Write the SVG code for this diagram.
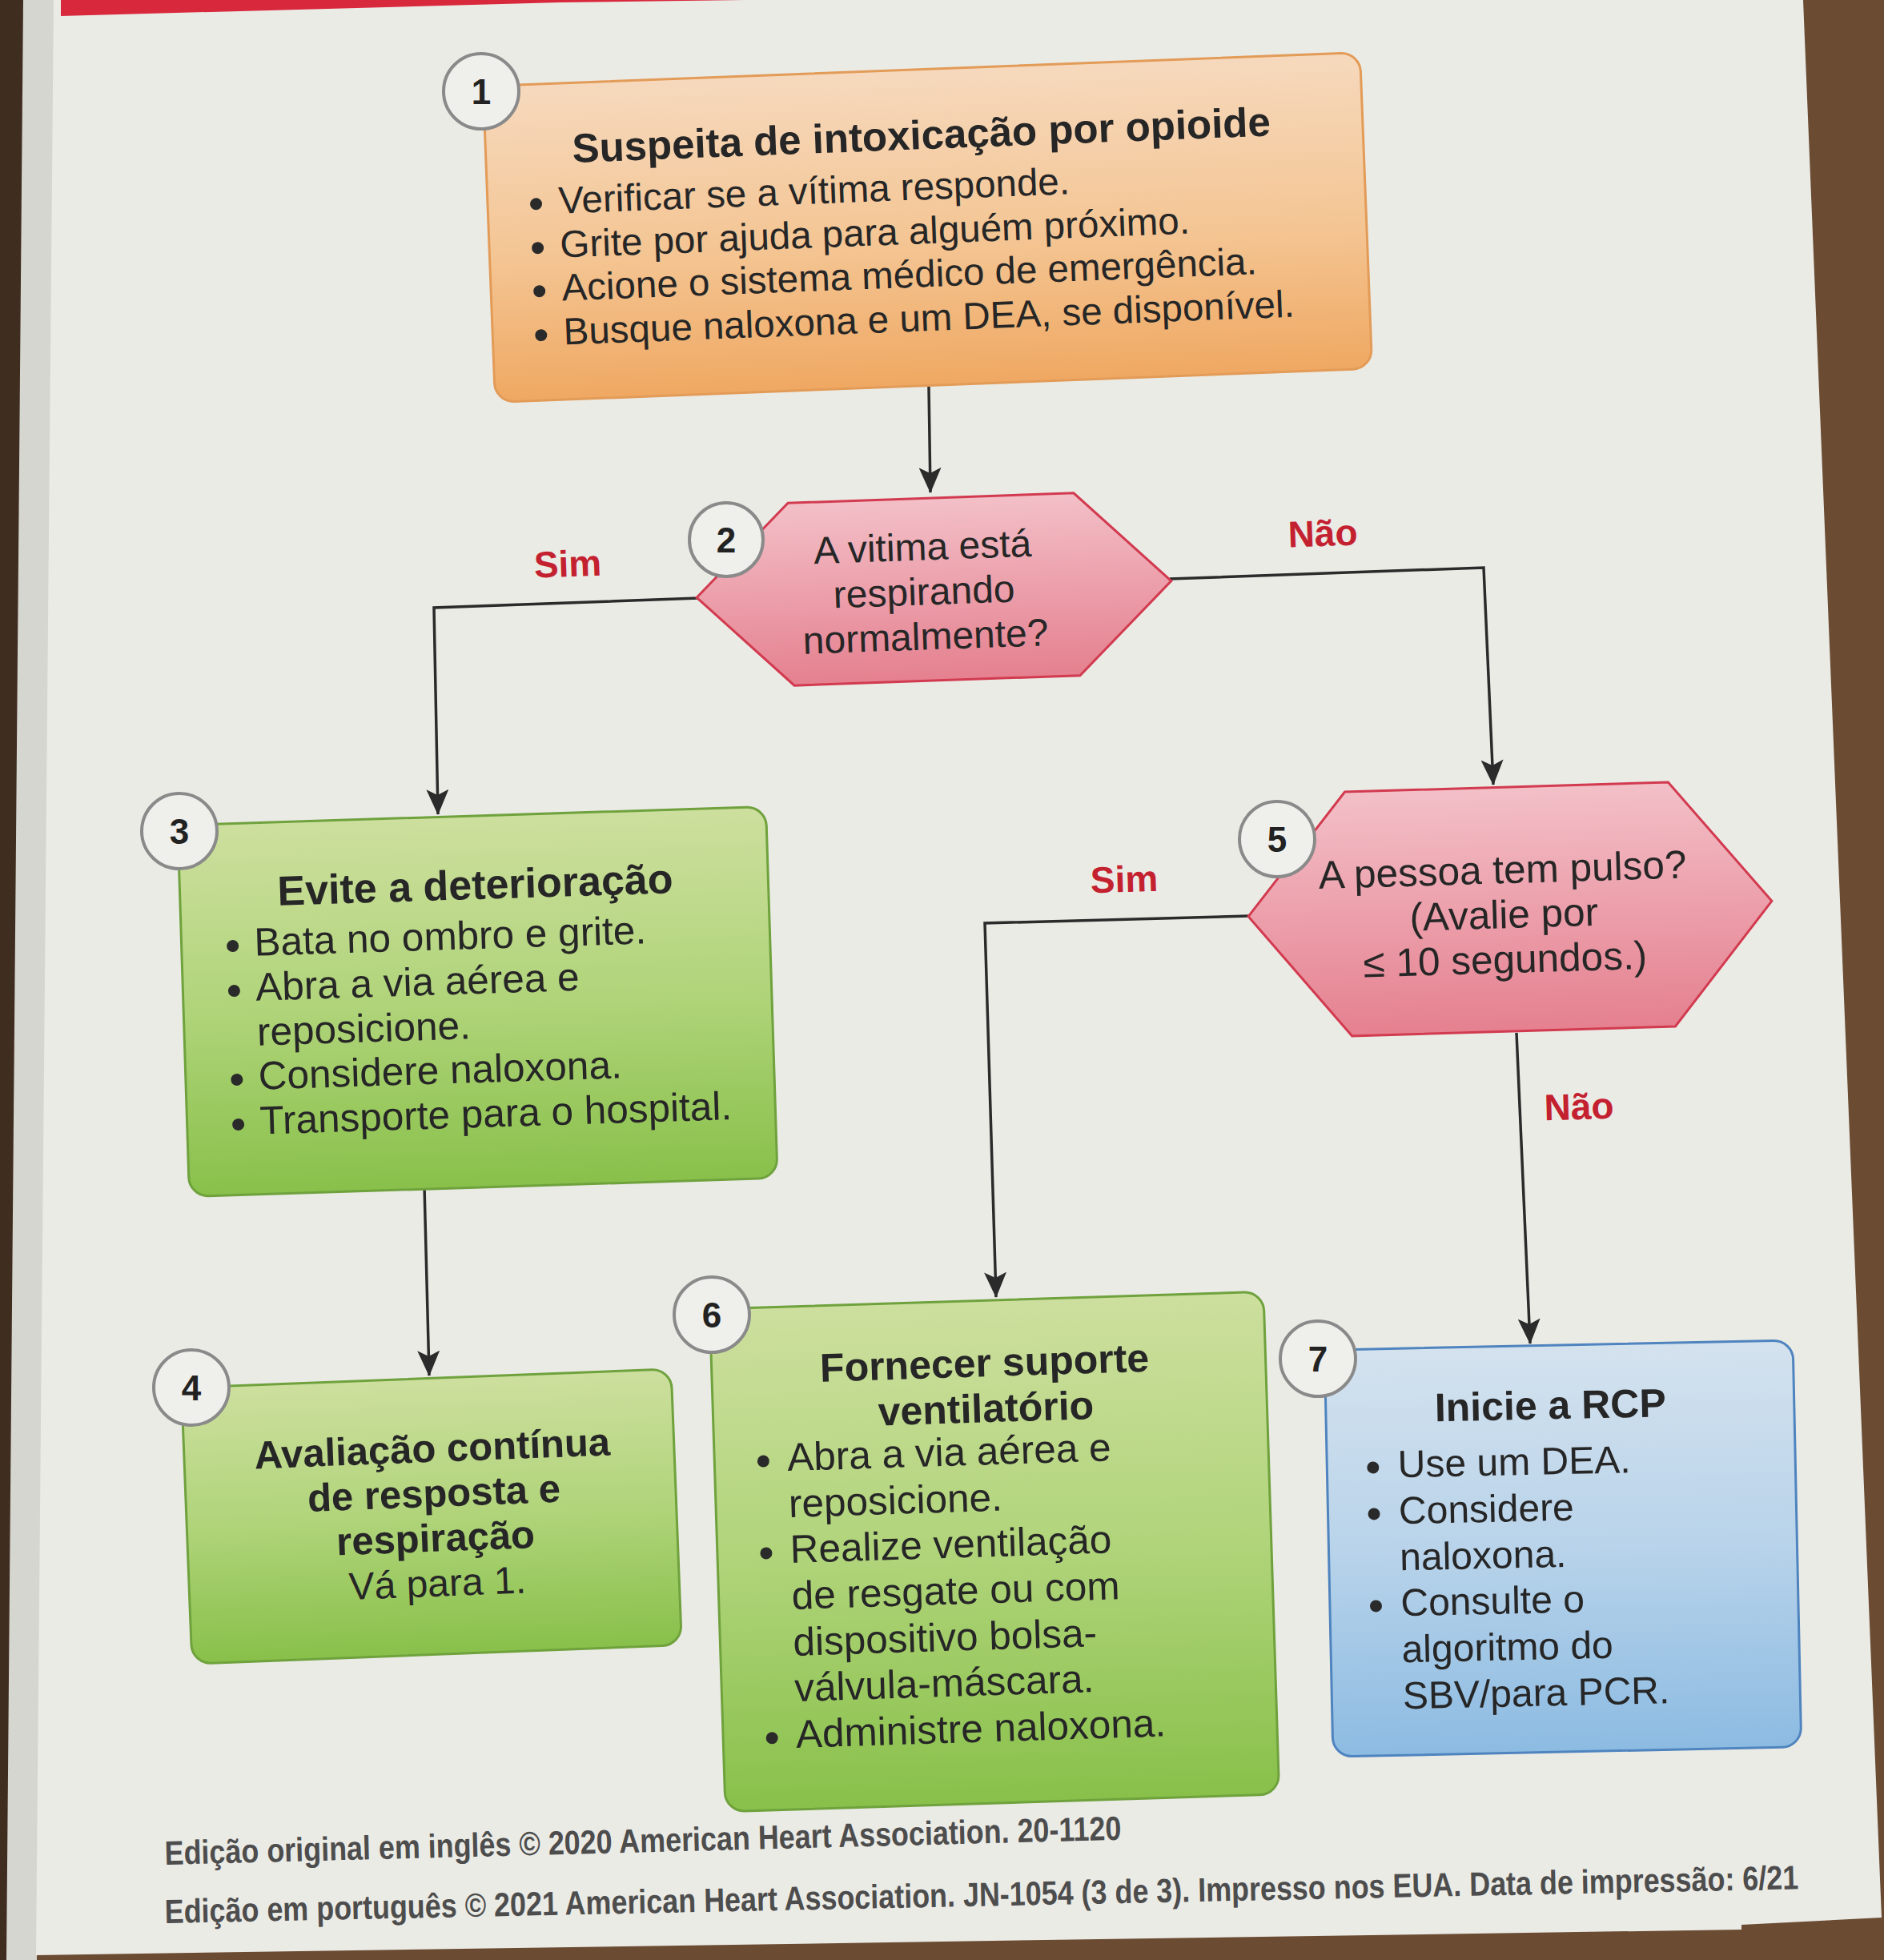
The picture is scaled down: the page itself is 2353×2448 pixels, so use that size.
<svg xmlns="http://www.w3.org/2000/svg" width="2353" height="2448" viewBox="0 0 2353 2448">
<defs>
<style>
.t{font-family:'Liberation Sans',Arial,Helvetica,sans-serif;fill:#262626}
.ttl{font-size:50px;font-weight:bold;text-anchor:middle}
.bul{font-size:48px}
.hx{font-size:48px;text-anchor:middle}
.reg{font-size:48px;text-anchor:middle}
.lbl{font-family:'Liberation Sans',Arial,sans-serif;font-size:46px;font-weight:bold;fill:#c42130;text-anchor:middle}
.num{font-family:'Liberation Sans',Arial,sans-serif;font-size:44px;font-weight:bold;fill:#222;text-anchor:middle}
.circ{fill:#efefeb;stroke:#8a8a8a;stroke-width:4}
.dot{fill:#2a2a2a}
.conn{fill:none;stroke:#2b2b2b;stroke-width:3.5;stroke-linejoin:miter}
.foot{font-family:'Liberation Sans',Arial,sans-serif;font-size:42px;font-weight:bold;fill:#4d4d4d}
</style>
<linearGradient id="gOr" x1="0" y1="0" x2="0" y2="1"><stop offset="0" stop-color="#f6d9bd"/><stop offset="0.55" stop-color="#f4c593"/><stop offset="1" stop-color="#efa862"/></linearGradient>
<linearGradient id="gGr" x1="0" y1="0" x2="0" y2="1"><stop offset="0" stop-color="#cddf9e"/><stop offset="0.5" stop-color="#b0d47a"/><stop offset="1" stop-color="#88c04a"/></linearGradient>
<linearGradient id="gBl" x1="0" y1="0" x2="0" y2="1"><stop offset="0" stop-color="#d4e2ee"/><stop offset="0.5" stop-color="#b8d3ea"/><stop offset="1" stop-color="#8cbbe2"/></linearGradient>
<linearGradient id="gPk" x1="0" y1="0" x2="0" y2="1"><stop offset="0" stop-color="#f3c0c8"/><stop offset="1" stop-color="#e5808f"/></linearGradient>
<marker id="arr" markerUnits="userSpaceOnUse" markerWidth="32" markerHeight="28" viewBox="0 0 32 28" refX="31" refY="14" orient="auto"><path d="M0,0 L32,14 L0,28 L7,14 z" fill="#2b2b2b"/></marker>
</defs>

<g id="background">
<rect x="0" y="0" width="2353" height="2448" fill="#6b4c33"/>
<rect x="0" y="0" width="30" height="2448" fill="#3f2d1f"/>
<polygon points="29,0 68,0 46,2448 8,2448" fill="#d6d6d1"/>
<polygon points="67,0 2252,0 2350,2395 2175,2404 2175,2410 45,2442" fill="#ebebe6"/>
<polygon points="76,0 930,0 700,3 76,20" fill="#d8283c"/>
</g>

<g id="connectors">
<path class="conn" d="M1160,483 L1162,615" marker-end="url(#arr)"/>
<path class="conn" d="M872,747 L542,759 L547,1017" marker-end="url(#arr)"/>
<path class="conn" d="M1461,723 L1853,709 L1865,980" marker-end="url(#arr)"/>
<path class="conn" d="M1560,1144 L1230,1153 L1244,1620" marker-end="url(#arr)"/>
<path class="conn" d="M1894,1290 L1911,1678" marker-end="url(#arr)"/>
<path class="conn" d="M530,1482 L536,1718" marker-end="url(#arr)"/>
</g>

<g id="labels">
<text class="lbl" x="709" y="720" transform="rotate(-2 709 704)">Sim</text>
<text class="lbl" x="1652" y="682" transform="rotate(-2 1652 666)">Não</text>
<text class="lbl" x="1404" y="1114" transform="rotate(-1.7 1404 1098)">Sim</text>
<text class="lbl" x="1972" y="1398" transform="rotate(-1.5 1972 1382)">Não</text>
</g>

<g id="node1">
<g transform="rotate(-2.2 1158.5 284)">
<rect x="610.5" y="86.5" width="1096" height="395" rx="24" fill="url(#gOr)" stroke="#e39b58" stroke-width="3"/>
<text class="t ttl" x="1155" y="186" style="font-size:51px">Suspeita de intoxicação por opioide</text>
<circle class="dot" cx="671" cy="236" r="7.5"/>
<circle class="dot" cx="671" cy="291" r="7.5"/>
<circle class="dot" cx="671" cy="345" r="7.5"/>
<circle class="dot" cx="671" cy="400" r="7.5"/>
<text class="t bul" x="699" y="249" style="font-size:47.5px">Verificar se a vítima responde.</text>
<text class="t bul" x="699" y="304" style="font-size:47.5px">Grite por ajuda para alguém próximo.</text>
<text class="t bul" x="699" y="358" style="font-size:47.5px">Acione o sistema médico de emergência.</text>
<text class="t bul" x="699" y="413" style="font-size:47.5px">Busque naloxona e um DEA, se disponível.</text>
</g>
<circle class="circ" cx="601" cy="114" r="47"/>
<text class="num" x="601" y="130">1</text>
</g>

<g id="node2">
<g transform="rotate(-2 1166 736)">
<polygon points="870,736 988,622 1345,622 1463,736 1345,850 988,850" fill="url(#gPk)" stroke="#d23a4f" stroke-width="3"/>
<text class="t hx" x="1154" y="699">A vitima está</text>
<text class="t hx" x="1154" y="755">respirando</text>
<text class="t hx" x="1154" y="811">normalmente?</text>
</g>
<circle class="circ" cx="907" cy="674" r="46"/>
<text class="num" x="907" y="690">2</text>
</g>

<g id="node3">
<g transform="rotate(-1.8 596.5 1251)">
<rect x="229" y="1019" width="735" height="464" rx="24" fill="url(#gGr)" stroke="#6fa23d" stroke-width="3"/>
<text class="t ttl" x="598" y="1123" style="font-size:52px">Evite a deterioração</text>
<circle class="dot" cx="293" cy="1172" r="7.5"/>
<circle class="dot" cx="293" cy="1228" r="7.5"/>
<circle class="dot" cx="293" cy="1339" r="7.5"/>
<circle class="dot" cx="293" cy="1395" r="7.5"/>
<text class="t bul" x="320" y="1185" style="font-size:49.5px">Bata no ombro e grite.</text>
<text class="t bul" x="320" y="1241" style="font-size:49.5px">Abra a via aérea e</text>
<text class="t bul" x="320" y="1297" style="font-size:49.5px">reposicione.</text>
<text class="t bul" x="320" y="1352" style="font-size:49.5px">Considere naloxona.</text>
<text class="t bul" x="320" y="1408" style="font-size:49.5px">Transporte para o hospital.</text>
</g>
<circle class="circ" cx="224" cy="1038" r="47"/>
<text class="num" x="224" y="1054">3</text>
</g>

<g id="node4">
<g transform="rotate(-2.2 539 1894)">
<rect x="233" y="1721.5" width="612" height="345" rx="24" fill="url(#gGr)" stroke="#6fa23d" stroke-width="3"/>
<text class="t ttl" x="543" y="1826" style="font-size:49px">Avaliação contínua</text>
<text class="t ttl" x="543" y="1882" style="font-size:49px">de resposta e</text>
<text class="t ttl" x="543" y="1938" style="font-size:49px">respiração</text>
<text class="t reg" x="543" y="1994">Vá para 1.</text>
</g>
<circle class="circ" cx="239" cy="1733" r="47"/>
<text class="num" x="239" y="1749">4</text>
</g>

<g id="node5">
<g transform="rotate(-1.7 1886 1135.5)">
<polygon points="1559,1135 1684,983 2088,983 2213,1135 2088,1288 1684,1288" fill="url(#gPk)" stroke="#d23a4f" stroke-width="3"/>
<text class="t hx" x="1878" y="1103" style="font-size:49.5px">A pessoa tem pulso?</text>
<text class="t hx" x="1878" y="1159" style="font-size:49.5px">(Avalie por</text>
<text class="t hx" x="1878" y="1215" style="font-size:49.5px">≤ 10 segundos.)</text>
</g>
<circle class="circ" cx="1595" cy="1048" r="47"/>
<text class="num" x="1595" y="1064">5</text>
</g>

<g id="node6">
<g transform="rotate(-1.8 1242 1938)">
<rect x="896" y="1624" width="692" height="628" rx="24" fill="url(#gGr)" stroke="#6fa23d" stroke-width="3"/>
<text class="t ttl" x="1237" y="1719">Fornecer suporte</text>
<text class="t ttl" x="1237" y="1776">ventilatório</text>
<circle class="dot" cx="957" cy="1816" r="7.5"/>
<circle class="dot" cx="957" cy="1931" r="7.5"/>
<circle class="dot" cx="957" cy="2162" r="7.5"/>
<text class="t bul" x="987" y="1829" style="font-size:49.5px">Abra a via aérea e</text>
<text class="t bul" x="987" y="1887" style="font-size:49.5px">reposicione.</text>
<text class="t bul" x="987" y="1944" style="font-size:49.5px">Realize ventilação</text>
<text class="t bul" x="987" y="2002" style="font-size:49.5px">de resgate ou com</text>
<text class="t bul" x="987" y="2060" style="font-size:49.5px">dispositivo bolsa-</text>
<text class="t bul" x="987" y="2117" style="font-size:49.5px">válvula-máscara.</text>
<text class="t bul" x="987" y="2175" style="font-size:49.5px">Administre naloxona.</text>
</g>
<circle class="circ" cx="889" cy="1642" r="47"/>
<text class="num" x="889" y="1658">6</text>
</g>

<g id="node7">
<g transform="rotate(-1.2 1952 1934)">
<rect x="1659.5" y="1680" width="585" height="508" rx="24" fill="url(#gBl)" stroke="#4f84bf" stroke-width="3"/>
<text class="t ttl" x="1940" y="1772">Inicie a RCP</text>
<circle class="dot" cx="1717" cy="1828" r="7.5"/>
<circle class="dot" cx="1717" cy="1886" r="7.5"/>
<circle class="dot" cx="1717" cy="2001" r="7.5"/>
<text class="t bul" x="1748" y="1841">Use um DEA.</text>
<text class="t bul" x="1748" y="1899">Considere</text>
<text class="t bul" x="1748" y="1957">naloxona.</text>
<text class="t bul" x="1748" y="2014">Consulte o</text>
<text class="t bul" x="1748" y="2072">algoritmo do</text>
<text class="t bul" x="1748" y="2130">SBV/para PCR.</text>
</g>
<circle class="circ" cx="1646" cy="1697" r="47"/>
<text class="num" x="1646" y="1713">7</text>
</g>

<g id="footer">
<text class="foot" x="0" y="0" transform="translate(206 2329) rotate(-1.5) scale(0.855 1)">Edição original em inglês © 2020 American Heart Association. 20-1120</text>
<text class="foot" x="0" y="0" transform="translate(206 2402) rotate(-1.2) scale(0.855 1)">Edição em português © 2021 American Heart Association. JN-1054 (3 de 3). Impresso nos EUA. Data de impressão: 6/21</text>
</g>
</svg>
